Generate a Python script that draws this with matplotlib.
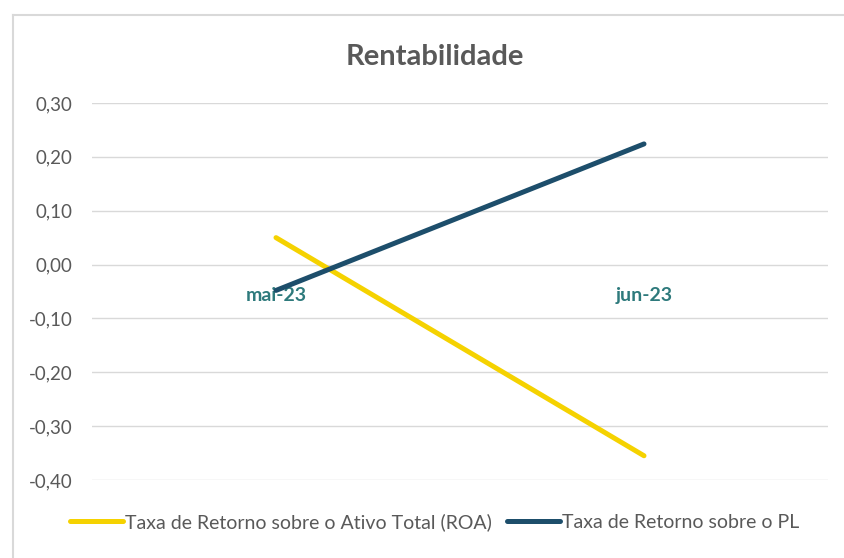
import matplotlib.pyplot as plt
from matplotlib.lines import Line2D

# Dados do gráfico
meses = ['mai-23', 'jun-23']
roa = [0.05, -0.355]
roe_pl = [-0.048, 0.224]
rotulos_series = ['Taxa de Retorno sobre o Ativo Total (ROA)', 'Taxa de Retorno sobre o PL']
yticks = [0.30, 0.20, 0.10, 0.00, -0.10, -0.20, -0.30, -0.40]

cor_roa = '#F5D200'
cor_pl = '#1D4E6B'
cor_texto = '#595959'

plt.rcParams['font.family'] = ['Lato', 'DejaVu Sans']

fig = plt.figure(figsize=(8.44, 5.58), dpi=100)
ax = fig.add_axes([92 / 844, 1 - 480 / 558, (828 - 92) / 844, (480 - 103) / 558])

x = range(len(meses))
ax.plot(x, roa, color=cor_roa, linewidth=3.6, solid_capstyle='round', label=rotulos_series[0])
ax.plot(x, roe_pl, color=cor_pl, linewidth=3.6, solid_capstyle='round', label=rotulos_series[1])

ax.set_xlim(-0.5, 1.5)
ax.set_ylim(-0.40, 0.30)
ax.grid(axis='y', color='#D9D9D9', linewidth=1)
ax.set_axisbelow(True)

# eixo x cruzando em zero (como no Excel); posição do spine antes dos rótulos
ax.spines['bottom'].set_position(('data', 0))
for s in ax.spines.values():
    s.set_visible(False)

ax.set_yticks(yticks)
ax.set_yticklabels([f'{v:.2f}'.replace('.', ',') for v in yticks], color=cor_texto, fontsize=13.5)
ax.set_xticks(list(x))
ax.set_xticklabels(meses, color='#2E7A7C', fontsize=14, fontweight='bold')
ax.tick_params(axis='x', length=0, pad=16)
ax.tick_params(axis='y', length=0, pad=14)

fig.text(0.515, 1 - 57 / 558, 'Rentabilidade', ha='center', va='center',
         fontsize=21, fontweight='bold', color=cor_texto)

fig.legend(loc='center', bbox_to_anchor=(0.515, 1 - 522 / 558), ncol=2, frameon=False,
           fontsize=14, handlelength=2.7, handletextpad=0.1, columnspacing=0.8,
           labelcolor=cor_texto)

# moldura do gráfico (cortada à direita e embaixo)
fig.add_artist(Line2D([13 / 844, 1.0], [1 - 15 / 558, 1 - 15 / 558], color='#D9D9D9', linewidth=1.5))
fig.add_artist(Line2D([13 / 844, 13 / 844], [0.0, 1 - 15 / 558], color='#D9D9D9', linewidth=1.5))

fig.savefig('out.png', dpi=100)
